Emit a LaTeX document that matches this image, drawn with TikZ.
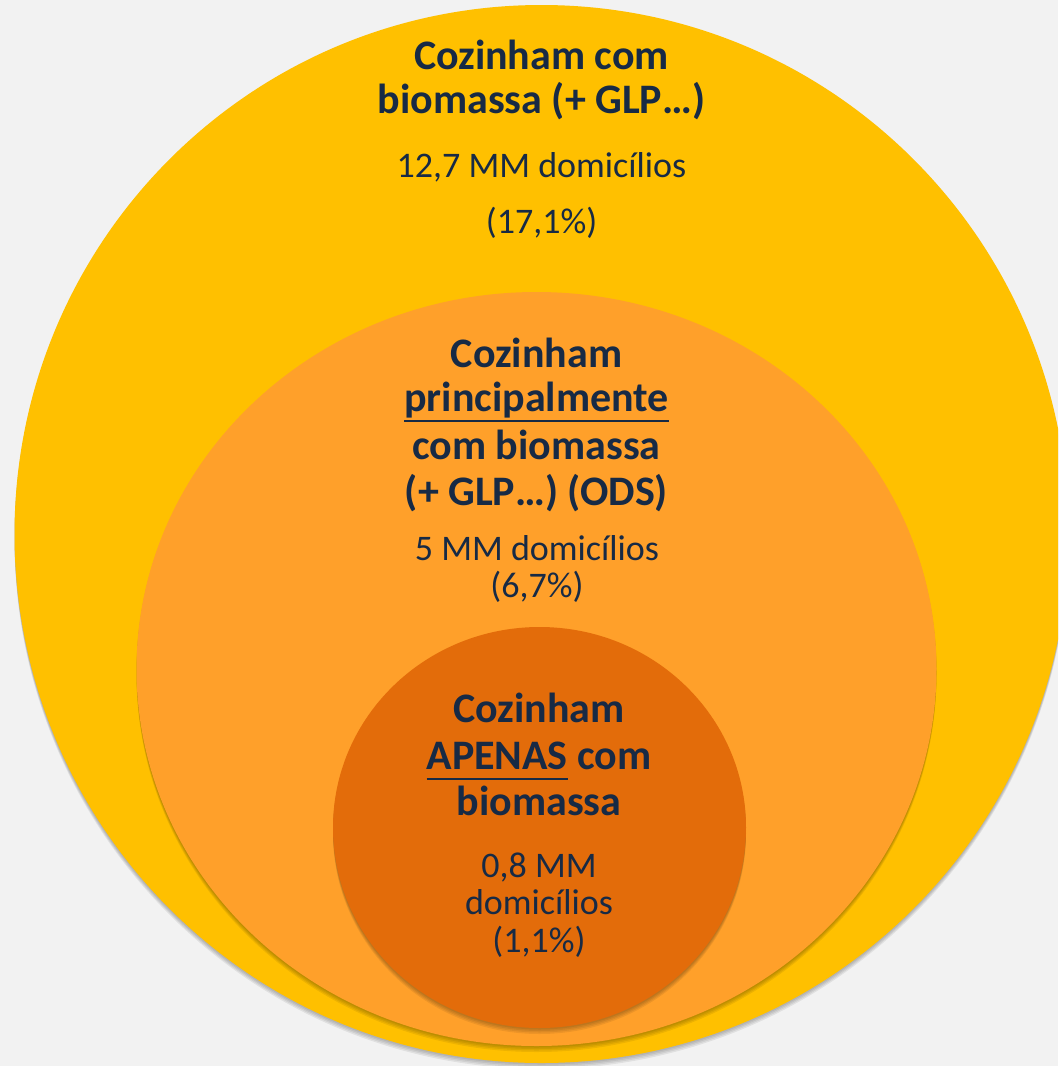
\documentclass[tikz,border=0pt]{standalone}
\usepackage{fontspec}
\setmainfont{Carlito}
\definecolor{bg}{HTML}{F2F2F2}
\definecolor{cYellow}{HTML}{FFC000}
\definecolor{cOrange}{HTML}{FFA02A}
\definecolor{cDark}{HTML}{E36C0A}
\definecolor{cText}{HTML}{172A45}
\newcommand\myul[1]{\setbox0\hbox{#1}\rlap{\rule[-11pt]{\wd0}{2.5pt}}\box0\relax}
\tikzset{
  bold/.style={anchor=base, inner sep=0pt, text=cText, font=\fontsize{42}{46}\selectfont\bfseries},
  reg/.style={anchor=base, inner sep=0pt, text=cText, font=\fontsize{36}{40}\selectfont},
  shade1/.style={fill=black, opacity=0.07},
}
\begin{document}
\begin{tikzpicture}[x=1pt,y=-1pt]
\useasboundingbox (0,0) rectangle (1058,1066);
\clip (0,0) rectangle (1058,1066);
\fill[bg] (0,0) rectangle (1058,1066);
% yellow
\foreach \s in {1.5,3,4.5,6} {\fill[shade1] (541.5,534+\s) ellipse [x radius=527, y radius=529];}
\fill[cYellow] (541.5,534) ellipse [x radius=527, y radius=529];
% orange
\foreach \s in {1.5,3,4.5,6} {\fill[shade1] (536.5,669+\s) ellipse [x radius=400, y radius=377];}
\fill[cOrange] (536.5,669) ellipse [x radius=400, y radius=377];
% dark
\foreach \s in {1.5,3,4.5,6} {\fill[shade1] (539.5,827.5+\s) ellipse [x radius=206.5, y radius=200.5];}
\fill[cDark] (539.5,827.5) ellipse [x radius=206.5, y radius=200.5];
% texts top
\node[bold] (t1) at (541.5,69) {Cozinham com};
\node[bold] (t2) at (541.5,113) {biomassa (+ GLP…)};
\node[reg] (t3) at (541.5,177) {12,7 MM domicílios};
\node[reg] (t4) at (541.5,233) {(17,1\%)};
% middle
\node[bold] (m1) at (536.5,367) {Cozinham};
\node[bold] (m2) at (536.5,411) {\myul{principalmente}};
\node[bold] (m3) at (536.5,459) {com biomassa};
\node[bold] (m4) at (536.5,505) {(+ GLP…) (ODS)};
\node[reg] (m5) at (537,560) {5 MM domicílios};
\node[reg] (m6) at (537,597) {(6,7\%)};
% small
\node[bold] (s1) at (539,722) {Cozinham};
\node[bold] (s2) at (539,769) {\myul{APENAS} com};
\node[bold] (s3) at (539,815) {biomassa};
\node[reg] (s4) at (539,877) {0,8 MM};
\node[reg] (s5) at (539,914.5) {domicílios};
\node[reg] (s6) at (539,952) {(1,1\%)};
\end{tikzpicture}
\end{document}
